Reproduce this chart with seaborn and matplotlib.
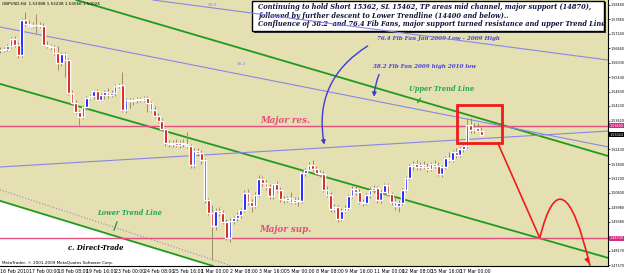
"""
GBPUSD H4 chart with trend channel, fib fans and notes
"""
import matplotlib
matplotlib.use('Agg')
import matplotlib.pyplot as plt
import seaborn as sns
import pandas as pd
from matplotlib.patches import Rectangle, FancyArrowPatch, PathPatch
from matplotlib.path import Path

# --- data (H4 bars) ---------------------------------------------------------
opens = [1.5657, 1.5657, 1.5661, 1.5674, 1.5703, 1.5678, 1.5636, 1.5782, 1.5766, 1.5757,
         1.5762, 1.5760, 1.5757, 1.5678, 1.5674, 1.5669, 1.5644, 1.5603, 1.5640, 1.5615,
         1.5477, 1.5435, 1.5398, 1.5377, 1.5419, 1.5456, 1.5465, 1.5486, 1.5448, 1.5469,
         1.5481, 1.5469, 1.5477, 1.5507, 1.5511, 1.5406, 1.5448, 1.5444, 1.5448, 1.5452,
         1.5450, 1.5456, 1.5435, 1.5406, 1.5381, 1.5360, 1.5327, 1.5268, 1.5264, 1.5268,
         1.5260, 1.5268, 1.5264, 1.5256, 1.5176, 1.5235, 1.5226, 1.5197, 1.5030, 1.4976,
         1.4921, 1.4984, 1.4976, 1.4938, 1.4871, 1.4942, 1.4955, 1.4967, 1.4988, 1.5059,
         1.5022, 1.5005, 1.5051, 1.5118, 1.5101, 1.5084, 1.5047, 1.5097, 1.5072, 1.5034,
         1.5030, 1.5038, 1.5022, 1.5030, 1.5026, 1.5143, 1.5155, 1.5176, 1.5160, 1.5143,
         1.5139, 1.5072, 1.5051, 1.4992, 1.5001, 1.4951, 1.4984, 1.4997, 1.5047, 1.5076,
         1.5063, 1.5022, 1.5017, 1.5051, 1.5072, 1.5080, 1.5030, 1.5063, 1.5093, 1.5055,
         1.5022, 1.5005, 1.5017, 1.5072, 1.5122, 1.5172, 1.5180, 1.5168, 1.5176, 1.5168,
         1.5160, 1.5180, 1.5172, 1.5139, 1.5168, 1.5206, 1.5197, 1.5231, 1.5218, 1.5243,
         1.5256, 1.5343, 1.5323, 1.5331, 1.5318]
highs = [1.5669, 1.5669, 1.5682, 1.5711, 1.5716, 1.5690, 1.5791, 1.5816, 1.5782, 1.5774,
         1.5807, 1.5774, 1.5770, 1.5695, 1.5682, 1.5678, 1.5674, 1.5649, 1.5649, 1.5624,
         1.5490, 1.5448, 1.5406, 1.5427, 1.5465, 1.5473, 1.5490, 1.5494, 1.5477, 1.5490,
         1.5498, 1.5490, 1.5515, 1.5519, 1.5565, 1.5456, 1.5456, 1.5456, 1.5461, 1.5461,
         1.5465, 1.5465, 1.5444, 1.5423, 1.5394, 1.5373, 1.5335, 1.5281, 1.5281, 1.5285,
         1.5281, 1.5285, 1.5314, 1.5264, 1.5247, 1.5247, 1.5239, 1.5206, 1.5038, 1.5009,
         1.4997, 1.5001, 1.4988, 1.4951, 1.4955, 1.4963, 1.4980, 1.4997, 1.5072, 1.5076,
         1.5034, 1.5063, 1.5135, 1.5130, 1.5114, 1.5097, 1.5101, 1.5109, 1.5084, 1.5047,
         1.5047, 1.5063, 1.5043, 1.5043, 1.5155, 1.5164, 1.5189, 1.5197, 1.5172, 1.5155,
         1.5151, 1.5089, 1.5063, 1.5013, 1.5009, 1.4997, 1.5009, 1.5055, 1.5089, 1.5089,
         1.5076, 1.5034, 1.5059, 1.5084, 1.5093, 1.5089, 1.5072, 1.5101, 1.5101, 1.5063,
         1.5038, 1.5030, 1.5080, 1.5130, 1.5180, 1.5193, 1.5197, 1.5189, 1.5193, 1.5185,
         1.5189, 1.5197, 1.5189, 1.5176, 1.5214, 1.5231, 1.5239, 1.5247, 1.5252, 1.5268,
         1.5373, 1.5373, 1.5352, 1.5352, 1.5335]
lows = [1.5644, 1.5649, 1.5653, 1.5665, 1.5669, 1.5624, 1.5628, 1.5757, 1.5753, 1.5749,
        1.5728, 1.5749, 1.5674, 1.5665, 1.5657, 1.5636, 1.5573, 1.5590, 1.5544, 1.5469,
        1.5427, 1.5389, 1.5343, 1.5369, 1.5406, 1.5448, 1.5452, 1.5444, 1.5444, 1.5452,
        1.5456, 1.5461, 1.5465, 1.5498, 1.5398, 1.5394, 1.5415, 1.5427, 1.5435, 1.5440,
        1.5440, 1.5398, 1.5398, 1.5373, 1.5352, 1.5318, 1.5256, 1.5252, 1.5252, 1.5252,
        1.5247, 1.5252, 1.5247, 1.5164, 1.5164, 1.5214, 1.5180, 1.5017, 1.4967, 1.4779,
        1.4905, 1.4963, 1.4930, 1.4863, 1.4854, 1.4930, 1.4942, 1.4955, 1.4980, 1.5009,
        1.4980, 1.4997, 1.5043, 1.5089, 1.5072, 1.5034, 1.5034, 1.5063, 1.5022, 1.5017,
        1.5022, 1.5013, 1.5013, 1.5005, 1.5017, 1.5130, 1.5147, 1.5151, 1.5135, 1.5126,
        1.5063, 1.5043, 1.4980, 1.4980, 1.4938, 1.4942, 1.4976, 1.4988, 1.5038, 1.5051,
        1.5013, 1.5005, 1.5009, 1.5038, 1.5059, 1.5017, 1.5017, 1.5051, 1.5047, 1.5009,
        1.4988, 1.4980, 1.5009, 1.5063, 1.5114, 1.5155, 1.5155, 1.5155, 1.5160, 1.5147,
        1.5151, 1.5164, 1.5130, 1.5126, 1.5160, 1.5189, 1.5189, 1.5206, 1.5210, 1.5231,
        1.5247, 1.5310, 1.5310, 1.5314, 1.5302]
closes = [1.5657, 1.5661, 1.5674, 1.5703, 1.5678, 1.5636, 1.5782, 1.5766, 1.5757, 1.5762,
          1.5760, 1.5757, 1.5678, 1.5674, 1.5669, 1.5644, 1.5603, 1.5640, 1.5615, 1.5477,
          1.5435, 1.5398, 1.5377, 1.5419, 1.5456, 1.5465, 1.5486, 1.5448, 1.5469, 1.5481,
          1.5469, 1.5477, 1.5507, 1.5511, 1.5406, 1.5448, 1.5444, 1.5448, 1.5452, 1.5450,
          1.5456, 1.5435, 1.5406, 1.5381, 1.5360, 1.5327, 1.5268, 1.5264, 1.5268, 1.5260,
          1.5268, 1.5264, 1.5256, 1.5176, 1.5235, 1.5226, 1.5197, 1.5030, 1.4976, 1.4921,
          1.4984, 1.4976, 1.4938, 1.4871, 1.4942, 1.4955, 1.4967, 1.4988, 1.5059, 1.5022,
          1.5005, 1.5051, 1.5118, 1.5101, 1.5084, 1.5047, 1.5097, 1.5072, 1.5034, 1.5030,
          1.5038, 1.5022, 1.5030, 1.5026, 1.5143, 1.5155, 1.5176, 1.5160, 1.5143, 1.5139,
          1.5072, 1.5051, 1.4992, 1.5001, 1.4951, 1.4984, 1.4997, 1.5047, 1.5076, 1.5063,
          1.5022, 1.5017, 1.5051, 1.5072, 1.5080, 1.5030, 1.5063, 1.5093, 1.5055, 1.5022,
          1.5005, 1.5017, 1.5072, 1.5122, 1.5172, 1.5180, 1.5168, 1.5176, 1.5168, 1.5160,
          1.5180, 1.5172, 1.5139, 1.5168, 1.5206, 1.5197, 1.5231, 1.5218, 1.5243, 1.5256,
          1.5343, 1.5323, 1.5331, 1.5318, 1.5302]

date_labels = ['16 Feb 2010', '17 Feb 00:00', '18 Feb 08:00', '19 Feb 16:00',
               '23 Feb 00:00', '24 Feb 08:00', '25 Feb 16:00', '1 Mar 00:00',
               '2 Mar 08:00', '3 Mar 16:00', '5 Mar 00:00', '8 Mar 08:00',
               '9 Mar 16:00', '11 Mar 00:00', '12 Mar 08:00', '15 Mar 16:00',
               '17 Mar 00:00']
price_ticks = [1.58460, 1.57860, 1.57240, 1.56640, 1.56030, 1.55430, 1.54830,
               1.54230, 1.53620, 1.52430, 1.51800, 1.51200, 1.50600, 1.49980,
               1.49380, 1.48170, 1.47570]

major_res = 1.5340
major_sup = 1.4870
last_price = 1.53024

# trend / fan lines: (bar index pair, price pair)
upper_tl = ([25.0, 169.3], [1.5849, 1.5214])
mid_tl = ([0.0, 169.3], [1.5515, 1.4788])
lower_tl = ([0.0, 59.3], [1.5026, 1.4754])
fan_50 = ([42.5, 169.3], [1.5866, 1.5615])
fan_382 = ([0.0, 169.3], [1.5753, 1.5252])
fan_low = ([0.0, 169.3], [1.5168, 1.5318])
fan_dot = ([0.0, 39.0], [1.5072, 1.4880])

df = pd.DataFrame({'open': opens, 'high': highs, 'low': lows, 'close': closes})
df['bar'] = range(len(df))

# --- style ------------------------------------------------------------------
sns.set_theme(style='white')
plt.rcParams['font.family'] = ['DejaVu Sans']

KHAKI = '#e4e0b2'
GREEN = '#1f9a1f'
FAN = '#8a86e6'
PINK = '#e2507c'
BLUE_TXT = '#4646d6'
NARROW = ['Liberation Sans Narrow', 'DejaVu Sans']

fig = plt.figure(figsize=(6.25, 2.73), dpi=100)
ax = fig.add_axes([0, 7 / 273, 608 / 625, 266 / 273])
ax.set_facecolor(KHAKI)
x_min, x_max = -0.08, 169.3
y_min, y_max = 1.4754, 1.5866
ax.set_xlim(x_min, x_max)
ax.set_ylim(y_min, y_max)

# white area under the lower trend line
(lx0, lx1), (ly0, ly1) = lower_tl
slope = (ly1 - ly0) / (lx1 - lx0)
xs = [x_min, x_max]
ys = [ly0 + slope * (x - lx0) for x in xs]
ax.fill_between(xs, ys, y_min - 0.01, color='white', zorder=0.5)

# lines
for (lx, ly), col, lw, ls, z in [(upper_tl, GREEN, 1.3, '-', 1), (mid_tl, GREEN, 1.3, '-', 1),
                                 (lower_tl, GREEN, 1.3, '-', 1), (fan_50, FAN, 0.8, '-', 8),
                                 (fan_382, FAN, 0.8, '-', 1), (fan_low, FAN, 0.8, '-', 1),
                                 (fan_dot, '#b080c0', 0.8, ':', 1)]:
    ax.axline((lx[0], ly[0]), (lx[1], ly[1]), color=col, lw=lw, ls=ls, zorder=z)

ax.axhline(major_res, color=PINK, lw=1.0, zorder=1.2)
ax.axhline(major_sup, color=PINK, lw=1.0, zorder=1.2)

# candles
up = df[df.close >= df.open]
down = df[df.close < df.open]
ax.vlines(df.bar, df.low, df.high, color='#9c8c6c', lw=0.7, zorder=2)
ax.bar(up.bar, up.close - up.open, bottom=up.open, width=0.75,
       color='#0000ff', zorder=3)
ax.bar(down.bar, down.open - down.close, bottom=down.close, width=0.75,
       color='#d00000', zorder=3)

# axes look
for side in ['left', 'top']:
    ax.spines[side].set_visible(False)
for side in ['right', 'bottom']:
    ax.spines[side].set_color('black')
    ax.spines[side].set_linewidth(0.8)
ax.set_xticks(range(0, 8 * len(date_labels), 8))
ax.set_xticklabels(date_labels, fontsize=3.3, ha='left', family=NARROW)
ax.yaxis.tick_right()
ax.set_yticks(price_ticks)
ax.set_yticklabels([f'{v:.5f}' for v in price_ticks], fontsize=2.4, family=['DejaVu Sans'])
ax.tick_params(axis='both', length=1.5, width=0.5, pad=0.6, colors='black')
ax.grid(False)

for val, fc in [(major_res, '#d42c86'), (major_sup, '#d42c86'), (last_price, 'black')]:
    ax.text(1.0025, val, f'{val:.5f}', transform=ax.get_yaxis_transform(),
            fontsize=2.4, color='white', va='center', ha='left', family=['DejaVu Sans'],
            bbox=dict(boxstyle='square,pad=0.15', fc=fc, ec='none'), clip_on=False)

# projection box + arrow
ax.add_patch(Rectangle((127.2, 1.5268), 12.6, 0.0159, fill=False,
                       ec='#ee1c1c', lw=2, zorder=5))
proj = Path([(138.6, 1.5268), (150.3, 1.4871), (156.5, 1.5247), (164.3, 1.4754)],
            [Path.MOVETO, Path.LINETO, Path.CURVE3, Path.CURVE3])
ax.add_patch(PathPatch(proj, fill=False, ec='#ee1c1c', lw=1.2, zorder=5, clip_on=False))
ax.annotate('', xy=(164.3, 1.4754), xytext=(163.4, 1.4785),
            arrowprops=dict(arrowstyle='-|>', color='#ee1c1c', lw=1.2,
                            mutation_scale=6), annotation_clip=False)

# labels
serif_bi = dict(family=['DejaVu Serif'], style='italic', weight='bold')
ax.text(79.3, 1.5364, 'Major res.', color=PINK, fontsize=6.3, ha='center',
        va='center', **serif_bi)
ax.text(79.3, 1.4905, 'Major sup.', color=PINK, fontsize=6.3, ha='center',
        va='center', **serif_bi)
ax.text(35.9, 1.4976, 'Lower Trend Line', color='#20a858', fontsize=4.8,
        ha='center', va='center', **serif_bi)
ax.annotate('', xy=(31.4, 1.4892), xytext=(32.8, 1.4950),
            arrowprops=dict(arrowstyle='-', color=GREEN, lw=0.9))
ax.text(122.8, 1.5494, 'Upper Trend Line', color='#20a858', fontsize=4.8,
        ha='center', va='center', **serif_bi)
ax.annotate('', xy=(115.8, 1.5427), xytext=(117.5, 1.5465),
            arrowprops=dict(arrowstyle='-', color=GREEN, lw=0.9))
ax.text(26.7, 1.4829, 'c. Direct-Trade', color='black', fontsize=4.9,
        ha='center', va='center', **serif_bi)
ax.text(122.2, 1.5707, '76.4 Fib Fan Jan 2009 Low - 2009 High', color=BLUE_TXT,
        fontsize=4.1, ha='center', va='center', **serif_bi)
ax.text(118.3, 1.5586, '38.2 Fib Fan 2009 high 2010 low', color=BLUE_TXT,
        fontsize=4.1, ha='center', va='center', **serif_bi)
ax.add_patch(FancyArrowPatch((103.0, 1.5680), (90.4, 1.5250),
                             connectionstyle='arc3,rad=0.35', arrowstyle='-|>',
                             mutation_scale=6, color='#3c3cd8', lw=1.0, zorder=6))
ax.add_patch(FancyArrowPatch((105.8, 1.5565), (104.1, 1.5450),
                             connectionstyle='arc3,rad=0.1', arrowstyle='-|>',
                             mutation_scale=6, color='#3c3cd8', lw=1.0, zorder=6))
ax.text(57.8, 1.5845, '50.0', color=FAN, fontsize=3.0, ha='left', va='center')
ax.text(66.0, 1.5598, '38.2', color=FAN, fontsize=3.0, ha='left', va='center')
ax.text(0.5, 1.5850, 'GBPUSD,H4  1.53388 1.53238 1.53066 1.53024', color='black',
        fontsize=3.0, ha='left', va='center', family=NARROW)
ax.text(0.5, 1.4766, 'MetaTrader, \u00a9 2001-2009 MetaQuotes Software Corp.',
        color='black', fontsize=3.0, ha='left', va='center', family=NARROW)

# note box
ax.add_patch(Rectangle((254 / 608, 1 - 33 / 266), 352 / 608, 31 / 266,
                       transform=ax.transAxes, fc='#303030', ec='none', zorder=6,
                       clip_on=False))
ax.add_patch(Rectangle((252 / 608, 1 - 31 / 266), 352 / 608, 30 / 266,
                       transform=ax.transAxes, fc='white', ec='black', lw=1.0,
                       zorder=6.5, clip_on=False))
note = ['Continuing to hold Short 15362, SL 15462, TP areas mid channel, major support (14870),',
        'followed by further descent to Lower Trendline (14400 and below)..',
        'Confluence of 38.2  and 76.4 Fib Fans, major support turned resistance and upper Trend Line']
for i, line in enumerate(note):
    ax.text(258 / 608, 1 - (7 + 8.5 * i) / 266, line, color='#14143c', fontsize=4.75,
            ha='left', va='center', zorder=7, transform=ax.transAxes, **serif_bi)

fig.savefig('out.png', dpi=100, facecolor='white')
